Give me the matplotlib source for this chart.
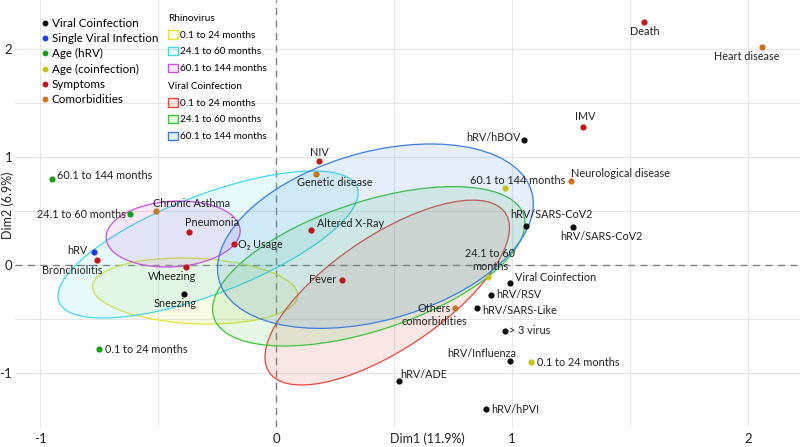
import numpy as np
import matplotlib
matplotlib.use('Agg')
import matplotlib.pyplot as plt
from matplotlib.patches import Ellipse, Patch
from matplotlib.lines import Line2D
from matplotlib.colors import to_rgba

plt.rcParams['font.family'] = ['Lato', 'DejaVu Sans']
plt.rcParams['axes.unicode_minus'] = False

# variable categories
groups = ['Viral Coinfection', 'Single Viral Infection', 'Age (hRV)',
          'Age (coinfection)', 'Symptoms', 'Comorbidities']
group_colors = ['#111111', '#1b3fe0', '#1a9e1a', '#c4c41a', '#c0161c', '#c8741e']

# variable coordinates on Dim1 / Dim2
labels = ['hRV/hBOV', 'hRV/SARS-CoV2', 'hRV/SARS-CoV2', 'Viral Coinfection', 'hRV/RSV',
          'hRV/SARS-Like', '> 3 virus', 'hRV/Influenza', 'hRV/ADE', 'hRV/hPVI', 'Sneezing',
          'hRV',
          '60.1 to 144 months', '24.1 to 60 months', '0.1 to 24 months',
          '60.1 to 144 months', '24.1 to 60\nmonths', '0.1 to 24 months',
          'Death', 'IMV', 'NIV', 'Altered X-Ray', 'Fever', 'Pneumonia', 'O\u2082 Usage',
          'Wheezing', 'Bronchiolitis',
          'Heart disease', 'Neurological disease', 'Genetic disease', 'Chronic Asthma',
          'Others\ncomorbidities']
dim1 = [1.05, 1.06, 1.26, 0.99, 0.91, 0.85, 0.97, 0.99, 0.52, 0.89, -0.39,
        -0.77,
        -0.95, -0.62, -0.75,
        0.97, 0.90, 1.08,
        1.56, 1.30, 0.18, 0.15, 0.28, -0.37, -0.18, -0.38, -0.76,
        2.06, 1.25, 0.17, -0.51, 0.76]
dim2 = [1.16, 0.36, 0.35, -0.17, -0.28, -0.40, -0.61, -0.89, -1.07, -1.33, -0.27,
        0.12,
        0.80, 0.47, -0.78,
        0.71, -0.11, -0.90,
        2.25, 1.28, 0.96, 0.32, -0.14, 0.31, 0.19, -0.02, 0.05,
        2.02, 0.78, 0.84, 0.50, -0.40]
group_of = [0] * 11 + [1] + [2] * 3 + [3] * 3 + [4] * 9 + [5] * 5

# label placement (offset in pixels, horizontal alignment)
label_pos = [(-3, 2, 'right'), (25, 12, 'center'), (28, -9, 'center'), (5, 6, 'left'),
             (5, 1, 'left'), (6, -2, 'left'), (4, 0, 'left'), (-28, 8, 'center'),
             (1, 6, 'left'), (5, -1, 'left'), (-9, -9, 'center'),
             (-7, 2, 'right'),
             (5, 3, 'left'), (-4, 0, 'right'), (6, 0, 'left'),
             (13, 8, 'center'), (2, 17, 'center'), (6, 0, 'left'),
             (1, -9, 'center'), (2, 10, 'center'), (1, 9, 'center'), (6, 7, 'left'),
             (-6, 1, 'right'), (23, 9, 'center'), (4, 0, 'left'), (-14, -9, 'center'),
             (-24, -11, 'center'),
             (-16, -10, 'center'), (0, 7, 'left'), (19, -8, 'center'), (36, 8, 'center'),
             (-21, -7, 'center')]

# concentration ellipses by age group
age_groups = ['0.1 to 24 months', '24.1 to 60 months', '60.1 to 144 months']
rhv_cx = [-0.343, -0.288, -0.436]
rhv_cy = [-0.241, 0.190, 0.287]
rhv_sx = [0.435, 0.636, 0.284]
rhv_sy = [0.306, 0.681, 0.306]
rhv_r = [-0.13, 0.70, 0.10]
coi_cx = [0.471, 0.393, 0.421]
coi_cy = [-0.255, -0.012, 0.267]
coi_sx = [0.518, 0.662, 0.669]
coi_sy = [0.856, 0.738, 0.854]
coi_r = [0.70, 0.54, 0.35]
rhv_colors = ['#e3e33a', '#3fd9e6', '#c94fdc']
coi_colors = ['#e4453f', '#3cc43c', '#3a7de0']
FILL_A = 0.13


def add_ellipse(ax, cx, cy, sx, sy, r, color):
    cov = np.array([[sx ** 2, r * sx * sy], [r * sx * sy, sy ** 2]])
    vals, vecs = np.linalg.eigh(cov)
    ang = np.degrees(np.arctan2(vecs[1, 1], vecs[0, 1]))
    e = Ellipse((cx, cy), 2 * np.sqrt(vals[1]), 2 * np.sqrt(vals[0]), angle=ang,
                facecolor=to_rgba(color, FILL_A), edgecolor=color, lw=0.9, zorder=2)
    ax.add_patch(e)


fig = plt.figure(figsize=(8, 4.47), dpi=100)
ax = fig.add_axes([15 / 800, 20 / 447, 785 / 800, 427 / 447])
ax.set_xlim(-1.106, 2.22)
ax.set_ylim(-1.5, 2.454)

ax.set_xticks([-1, 0, 1, 2])
ax.set_xticklabels(['-1', '0', '1', '2'])
ax.set_yticks([-1, 0, 1, 2])
ax.set_yticklabels(['-1', '0', '1', '2'])
ax.set_xticks(np.arange(-1, 2.01, 0.5), minor=True)
ax.set_yticks(np.arange(-1.5, 2.01, 0.5), minor=True)
ax.grid(which='both', color='#e6e6e6', lw=0.8, zorder=0)
ax.set_axisbelow(True)
ax.tick_params(which='both', length=0)
ax.tick_params(axis='x', pad=4, labelsize=9.5, labelcolor='#222222')
ax.tick_params(axis='y', pad=2, labelsize=9.5, labelcolor='#222222')
for s in ax.spines.values():
    s.set_visible(False)

ax.axhline(0, color='#808080', ls=(0, (5, 4)), lw=1, zorder=1)
ax.axvline(0, color='#808080', ls=(0, (5, 4)), lw=1, zorder=1)

for i in range(3):
    add_ellipse(ax, rhv_cx[i], rhv_cy[i], rhv_sx[i], rhv_sy[i], rhv_r[i], rhv_colors[i])
for i in range(3):
    add_ellipse(ax, coi_cx[i], coi_cy[i], coi_sx[i], coi_sy[i], coi_r[i], coi_colors[i])

for g, c in enumerate(group_colors):
    xs = [x for x, k in zip(dim1, group_of) if k == g]
    ys = [y for y, k in zip(dim2, group_of) if k == g]
    ax.scatter(xs, ys, s=20, color=c, linewidths=0, zorder=4)

for i, txt in enumerate(labels):
    dx, dy, ha = label_pos[i]
    ax.annotate(txt, (dim1[i], dim2[i]), xytext=(dx, dy), textcoords='offset pixels',
                ha=ha, va='center', fontsize=7.8, color='#222222', zorder=5,
                linespacing=1.2)

ax.text(0.525, -0.027, 'Dim1 (11.9%)', transform=ax.transAxes, ha='center', va='center',
        fontsize=9, color='#222222')
ax.text(-0.009, 0.556, 'Dim2 (6.9%)', transform=ax.get_yaxis_transform(), rotation=90,
        ha='center', va='center', fontsize=9, color='#222222')

h1 = [Line2D([], [], ls='', marker='o', ms=3.2, color=c) for c in group_colors]
fig.legend(h1, groups, loc='upper left', bbox_to_anchor=(41 / 800, 1 - 18 / 447),
           frameon=False, fontsize=8.4, handlelength=0.6, handletextpad=0.3,
           labelspacing=0.36, borderpad=0, borderaxespad=0)

h2 = [Patch(facecolor=to_rgba(c, FILL_A), edgecolor=c, lw=1) for c in rhv_colors]
fig.legend(h2, age_groups, title='Rhinovirus', title_fontsize=7.2, alignment='left',
           loc='upper left', bbox_to_anchor=(168 / 800, 1 - 14 / 447), frameon=False,
           fontsize=7.2, handlelength=0.95, handleheight=0.95, handletextpad=0.25,
           labelspacing=0.7, borderpad=0, borderaxespad=0)

h3 = [Patch(facecolor=to_rgba(c, FILL_A), edgecolor=c, lw=1) for c in coi_colors]
fig.legend(h3, age_groups, title='Viral Coinfection', title_fontsize=7.2, alignment='left',
           loc='upper left', bbox_to_anchor=(168 / 800, 1 - 82 / 447), frameon=False,
           fontsize=7.2, handlelength=0.95, handleheight=0.95, handletextpad=0.25,
           labelspacing=0.7, borderpad=0, borderaxespad=0)

fig.savefig('out.png', dpi=100)
plt.close()
